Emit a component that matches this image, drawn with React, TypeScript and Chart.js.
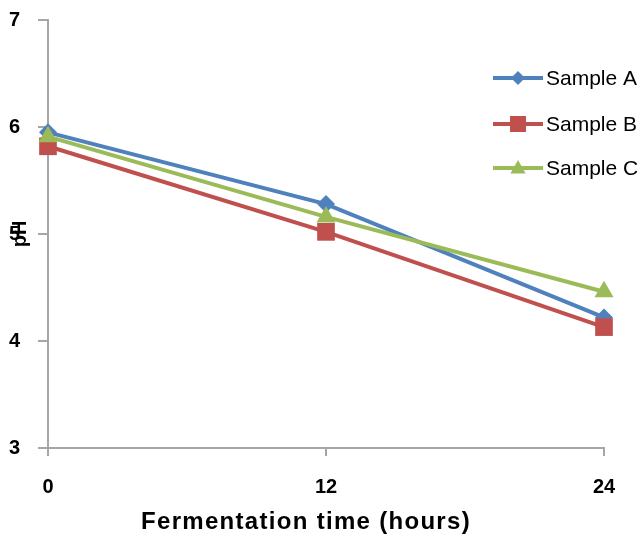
import React, { useEffect, useRef } from "react";
import { Chart, registerables } from "chart.js";

Chart.register(...registerables);

const hours = [0, 12, 24];
const sampleA = [5.95, 5.28, 4.22];
const sampleB = [5.82, 5.02, 4.13];
const sampleC = [5.91, 5.16, 4.46];
const seriesNames = ["Sample A", "Sample B", "Sample C"];
const seriesColors = ["#4F81BD", "#C0504D", "#9BBB59"];
const xTitle = "Fermentation time (hours)";
const yTitle = "pH";

function drawMarker(ctx: CanvasRenderingContext2D, kind: string, x: number, y: number, r: number, color: string) {
  ctx.save();
  ctx.fillStyle = color;
  ctx.beginPath();
  if (kind === "diamond") {
    ctx.moveTo(x, y - r);
    ctx.lineTo(x + r, y);
    ctx.lineTo(x, y + r);
    ctx.lineTo(x - r, y);
  } else if (kind === "square") {
    ctx.rect(x - r, y - r, 2 * r, 2 * r);
  } else {
    ctx.moveTo(x, y - r);
    ctx.lineTo(x + r * 0.95, y + r * 0.7);
    ctx.lineTo(x - r * 0.95, y + r * 0.7);
  }
  ctx.closePath();
  ctx.fill();
  ctx.restore();
}

const overlayPlugin = {
  id: "overlay",
  afterDraw(chart: any) {
    const ctx: any = chart.ctx;
    ctx.save();
    // x axis title
    ctx.fillStyle = "#000";
    ctx.font = "bold 24px 'Liberation Sans', Arial, sans-serif";
    ctx.textAlign = "center";
    ctx.textBaseline = "middle";
    try { ctx.letterSpacing = "1.3px"; } catch (e) {}
    ctx.fillText(xTitle, 306, 522);
    try { ctx.letterSpacing = "0px"; } catch (e) {}
    // legend
    const kinds = ["diamond", "square", "triangle"];
    const sizes = [7, 8, 8];
    const ys = [78, 124, 168];
    ctx.font = "21px 'Liberation Sans', Arial, sans-serif";
    ctx.textAlign = "left";
    for (let i = 0; i < seriesNames.length; i++) {
      const y = ys[i];
      ctx.strokeStyle = seriesColors[i];
      ctx.lineWidth = 4;
      ctx.beginPath();
      ctx.moveTo(493, y);
      ctx.lineTo(543, y);
      ctx.stroke();
      drawMarker(ctx, kinds[i], 518, y, sizes[i], seriesColors[i]);
      ctx.fillStyle = "#000";
      ctx.fillText(seriesNames[i], 546, y + 1);
    }
    ctx.restore();
  },
};

export default function App() {
  const canvasRef = useRef<HTMLCanvasElement | null>(null);

  useEffect(() => {
    if (!canvasRef.current) return;
    const mk = (i: number, vals: number[], style: string, radius: number, order: number) => ({
      label: seriesNames[i],
      data: hours.map((h, k) => ({ x: h, y: vals[k] })),
      borderColor: seriesColors[i],
      backgroundColor: seriesColors[i],
      borderWidth: 4,
      pointStyle: style,
      pointRadius: radius,
      pointBorderWidth: 0,
      pointHoverRadius: radius,
      tension: 0,
      clip: false,
      order,
    });
    const axisColor = "#A6A6A6";
    const tickFont = { family: "'Liberation Sans', Arial, sans-serif", size: 20, weight: "bold" };
    const chart = new Chart(canvasRef.current, {
      type: "line",
      data: {
        datasets: [
          mk(0, sampleA, "rectRot", 9, 3),
          mk(1, sampleB, "rect", 12.5, 2),
          mk(2, sampleC, "triangle", 11, 1),
        ] as any,
      },
      options: {
        animation: false,
        responsive: true,
        maintainAspectRatio: false,
        layout: { padding: { left: 8, top: 20, right: 38, bottom: 0 } },
        plugins: { legend: { display: false }, tooltip: { enabled: false } },
        scales: {
          x: {
            type: "linear",
            min: 0,
            max: 24,
            afterFit: (s: any) => {
              s.height = 90;
              s.paddingLeft = 0;
              s.paddingRight = 0;
            },
            ticks: {
              stepSize: 12,
              color: "#000",
              padding: 19,
              font: tickFont,
            },
            grid: { drawOnChartArea: false, drawTicks: true, tickLength: 8, color: axisColor, lineWidth: 2 },
            border: { display: true, color: axisColor, width: 2 },
          },
          y: {
            type: "linear",
            min: 3,
            max: 7,
            afterFit: (s: any) => {
              s.width = 40;
              s.paddingTop = 0;
              s.paddingBottom = 0;
            },
            ticks: {
              stepSize: 1,
              color: "#000",
              padding: 18,
              font: tickFont,
            },
            title: {
              display: true,
              text: yTitle,
              color: "#000",
              padding: { top: 0, bottom: 0 },
              font: { family: "'Liberation Sans', Arial, sans-serif", size: 20, weight: "bold" },
            },
            grid: { drawOnChartArea: false, drawTicks: true, tickLength: 10, color: axisColor, lineWidth: 2 },
            border: { display: true, color: axisColor, width: 2 },
          },
        },
      } as any,
      plugins: [overlayPlugin],
    });
    return () => chart.destroy();
  }, []);

  return (
    <div style={{ position: "absolute", left: 0, top: 0, width: 642, height: 538, background: "#fff" }}>
      <canvas ref={canvasRef} />
    </div>
  );
}
